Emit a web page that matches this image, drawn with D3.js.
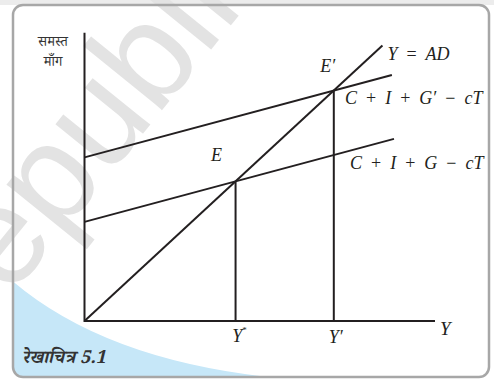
<!DOCTYPE html>
<html>
<head>
<meta charset="utf-8">
<script src="https://cdn.jsdelivr.net/npm/d3@7"></script>
<style>
  body { margin: 0; background: #fff; }
  .math { font-family: "Liberation Serif", "Times New Roman", serif; font-style: italic; fill: #231f20; }
  .deva { font-family: "Noto Serif Devanagari", "Noto Sans Devanagari", "Lohit Devanagari", serif; fill: #333; }
</style>
</head>
<body>
<script>
var w = 494;
var h = 380;

// economic model: AD = A + c*Y
var curveNames = ['C + I + G − cT', 'C + I + G′ − cT'];
var intercepts = [30.6, 50.5];
var mpc = 0.29;
var curveEnds = [88.3, 87.7];
var diagonalEnd = 85;   // Y = AD line runs to here
var yAxisTop = 89;
var xAxisEnd = 100;
var eqLabels = ['E', 'E′'];
var tickLabels = ['Y', 'Y′'];

var x = d3.scaleLinear().domain([0, 100]).range([84.5, 435]);
var y = d3.scaleLinear().domain([0, 100]).range([321, -3]);

var svg = d3.select('body').append('svg')
  .attr('width', w)
  .attr('height', h);

var defs = svg.append('defs');
defs.append('clipPath').attr('id', 'frame')
  .append('rect')
  .attr('x', 13).attr('y', 5)
  .attr('width', 476).attr('height', 372)
  .attr('rx', 10);

// top grey band above the panel
svg.append('rect')
  .attr('x', 0).attr('y', 0)
  .attr('width', w).attr('height', 5)
  .attr('fill', '#ececec');

// watermark
svg.append('text')
  .attr('transform', 'translate(-20,335) rotate(-51)')
  .attr('font-family', 'Liberation Sans, Arial, sans-serif')
  .attr('font-size', 140)
  .attr('fill', '#e3e3e3')
  .text('republished');

svg.append('path')
  .attr('clip-path', 'url(#frame)')
  .attr('d', 'M10,279 Q110,366 300,380 L10,380 Z')
  .attr('fill', '#c6e7f8');

svg.append('rect')
  .attr('x', 13).attr('y', 5)
  .attr('width', 476).attr('height', 372)
  .attr('rx', 10)
  .attr('fill', 'none')
  .attr('stroke', '#a7a7a7')
  .attr('stroke-width', 2.5);

var line = d3.line()
  .x(function(d) { return x(d[0]); })
  .y(function(d) { return y(d[1]); });

var g = svg.append('g')
  .attr('fill', 'none')
  .attr('stroke', '#231f20')
  .attr('stroke-width', 2);

// axes
g.append('path').attr('d', line([[0, yAxisTop], [0, 0], [xAxisEnd, 0]]));

// 45 degree line
g.append('path').attr('d', line([[0, 0], [diagonalEnd, diagonalEnd]]));

var eq = intercepts.map(function(a) { return a / (1 - mpc); });

intercepts.forEach(function(a, i) {
  g.append('path').attr('d', line([[0, a], [curveEnds[i], a + mpc * curveEnds[i]]]));
  g.append('path').attr('d', line([[eq[i], 0], [eq[i], eq[i]]]));
});

// labels: split a formula into italic symbols and upright operators
function mathText(px, py, str, size) {
  var t = svg.append('text').attr('class', 'math')
    .attr('x', px).attr('y', py)
    .attr('font-size', size || 18);
  str.split(/( [+=−] )/).forEach(function(p) {
    if (/^ [+=−] $/.test(p)) {
      t.append('tspan').attr('font-style', 'normal')
        .text('\u2002' + p.trim() + '\u2002');
    } else if (p) {
      t.append('tspan').text(p);
    }
  });
  return t;
}

mathText(x(diagonalEnd) + 5, 60, 'Y = AD');
mathText(345, 104, curveNames[1]);
mathText(350, 169, curveNames[0]);

svg.selectAll('.eqlab')
  .data(eqLabels)
  .enter().append('text')
  .attr('class', 'math eqlab')
  .attr('font-size', 18)
  .attr('text-anchor', 'middle')
  .attr('x', function(d, i) { return x(eq[i]) + [-19, -6][i]; })
  .attr('y', function(d, i) { return y(eq[i]) + [-20, -19][i]; })
  .text(function(d) { return d; });

var ty = svg.append('text').attr('class', 'math')
  .attr('font-size', 18).attr('text-anchor', 'middle')
  .attr('x', x(eq[0]) + 4).attr('y', 342);
ty.append('tspan').text(tickLabels[0]);
ty.append('tspan').attr('font-size', 9).attr('dy', -9).attr('font-style', 'normal').text('*');

svg.append('text').attr('class', 'math')
  .attr('font-size', 18).attr('text-anchor', 'middle')
  .attr('x', x(eq[1]) + 2).attr('y', 343)
  .text(tickLabels[1]);

svg.append('text').attr('class', 'math')
  .attr('font-size', 19)
  .attr('x', x(xAxisEnd) + 5).attr('y', 335)
  .text('Y');

svg.append('text').attr('class', 'deva')
  .attr('font-size', 14).attr('text-anchor', 'middle')
  .attr('x', 53).attr('y', 46)
  .text('समस्त');
svg.append('text').attr('class', 'deva')
  .attr('font-size', 14).attr('text-anchor', 'middle')
  .attr('x', 53).attr('y', 66)
  .text('माँग');

svg.append('text').attr('class', 'deva')
  .attr('font-size', 18).attr('font-weight', 'bold').attr('font-style', 'italic')
  .attr('x', 22).attr('y', 363)
  .text('रेखाचित्र 5.1');
</script>
</body>
</html>
